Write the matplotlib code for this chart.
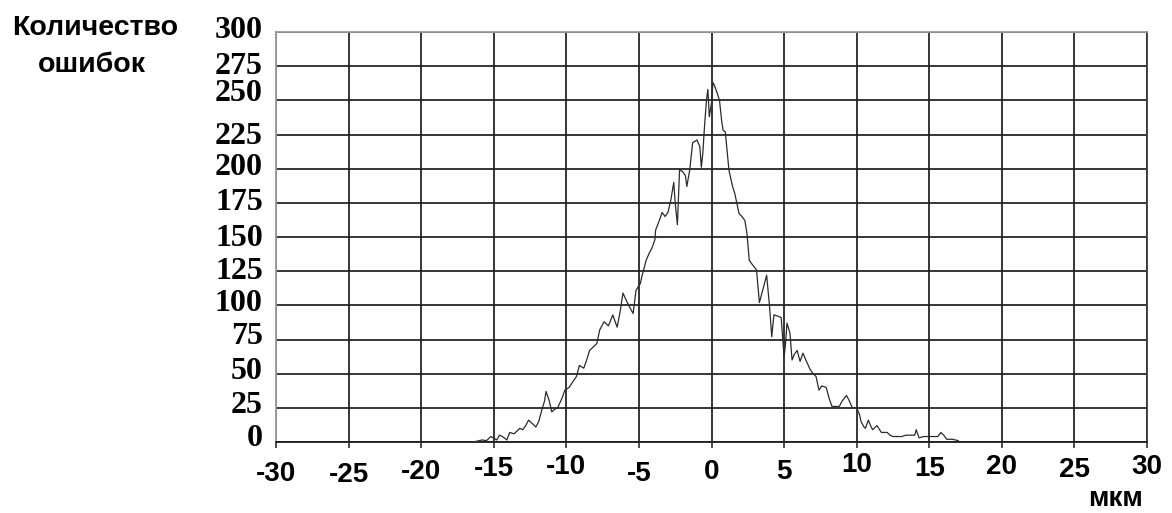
import matplotlib
matplotlib.use("Agg")
import matplotlib.pyplot as plt
import matplotlib.transforms as mtransforms

# Error distribution: deviation (мкм) vs number of errors
deviation = [
    -16.5, -16.2, -15.8, -15.5, -15.2, -14.8, -14.6, -14.4, -14.1, -13.9,
    -13.6, -13.2, -13.0, -12.8, -12.6, -12.3, -12.1, -11.9, -11.7, -11.5,
    -11.4, -11.2, -11.0, -10.8, -10.6, -10.3, -10.1, -9.8, -9.5, -9.3,
    -9.1, -8.8, -8.6, -8.4, -8.2, -7.9, -7.7, -7.4, -7.1, -6.8,
    -6.5, -6.3, -6.1, -5.8, -5.6, -5.4, -5.2, -4.9, -4.8, -4.5,
    -4.3, -4.1, -3.9, -3.85, -3.6, -3.4, -3.2, -3.0, -2.8, -2.6,
    -2.5, -2.35, -2.2, -2.0, -1.8, -1.7, -1.5, -1.3, -1.0, -0.8,
    -0.7, -0.6, -0.5, -0.35, -0.25, -0.15, 0.0, 0.1, 0.2, 0.4,
    0.55, 0.7, 0.8, 0.95, 1.1, 1.2, 1.45, 1.6, 1.9, 2.1,
    2.3, 2.45, 2.6, 2.8, 3.1, 3.3, 3.5, 3.8, 4.0, 4.15,
    4.3, 4.6, 4.8, 5.0, 5.1, 5.2, 5.4, 5.55, 5.7, 5.9,
    6.1, 6.3, 6.5, 6.8, 7.0, 7.2, 7.4, 7.6, 7.9, 8.1,
    8.3, 8.6, 8.8, 9.0, 9.3, 9.5, 9.7, 10.0, 10.2, 10.3,
    10.5, 10.6, 10.8, 11.0, 11.1, 11.4, 11.7, 11.9, 12.1, 12.3,
    12.5, 12.8, 13.1, 13.4, 13.7, 14.0, 14.1, 14.3, 14.6, 15.0,
    15.3, 15.6, 15.8, 16.0, 16.2, 16.6, 17.0,
]
error_count = [
    0, 0.5, 1.5, 1, 4, 1.5, 5, 4, 1.5, 7,
    6, 10, 9, 12, 16, 13, 11, 15, 23, 30,
    37, 31, 22, 24, 25, 32, 38, 40, 45, 48,
    56, 54, 60, 67, 69, 72, 82, 88, 85, 93,
    84, 95, 109, 102, 98, 94, 111, 116, 121, 133,
    138, 142, 148, 155, 162, 168, 165, 168, 177, 190,
    175, 159, 199, 198, 195, 187, 199, 219, 221, 216,
    201, 211, 228, 250, 258, 238, 248, 263, 261, 255,
    250, 235, 228, 227, 210, 199, 187, 182, 167, 165,
    162, 152, 133, 130, 126, 102, 110, 122, 99, 77,
    93, 92, 91, 62, 72, 87, 80, 60, 64, 67,
    59, 65, 60, 53, 50, 48, 38, 41, 40, 32,
    26, 26, 26, 30, 34, 30, 25, 25, 20, 15,
    11, 10, 16, 11, 9, 12, 7, 7, 7, 5,
    4, 4, 4, 5, 5, 5, 9, 3, 4, 4,
    4, 4, 7, 5, 2, 2, 1,
]

x_ticks = [-30, -25, -20, -15, -10, -5, 0, 5, 10, 15, 20, 25, 30]
y_ticks = [0, 25, 50, 75, 100, 125, 150, 175, 200, 225, 250, 275, 300]
y_title = "Количество\nошибок"
x_unit = "мкм"

# Small vertical shifts (pixels, up = positive) of individual tick labels
x_label_shift = [-2, -3, 0, 3, 5, -2, 0, 0, 7, 3, 5, 2, 5]
y_label_shift = [7, 6, 6, 6, 5, 3, 2, 4, 5, 2, 10, 3, 5]

SANS = "Liberation Sans"
SERIF = "Liberation Serif"

W, H, DPI = 1172, 513, 100
fig = plt.figure(figsize=(W / DPI, H / DPI), dpi=DPI)
fig.patch.set_facecolor("white")

left, right, bottom, top = 276, 1147, 442, 32
ax = fig.add_axes([left / W, 1 - bottom / H, (right - left) / W, (bottom - top) / H])

ax.plot(deviation, error_count, color="#2b2b2b", linewidth=0.9, zorder=3)

ax.set_xlim(x_ticks[0], x_ticks[-1])
ax.set_ylim(y_ticks[0], y_ticks[-1])

ax.set_xticks(x_ticks)
ax.set_xticklabels([str(v) for v in x_ticks])
ax.set_yticks(y_ticks)
ax.set_yticklabels([str(v) for v in y_ticks])

ax.grid(True, color="#1e1e1e", linewidth=1.25)
ax.set_axisbelow(True)

for side in ("left", "top", "right"):
    ax.spines[side].set_color("#9a9a9a")
    ax.spines[side].set_linewidth(1.3)
ax.spines["right"].set_color("#3a3a3a")
ax.spines["bottom"].set_color("#1e1e1e")
ax.spines["bottom"].set_linewidth(1.3)

ax.tick_params(axis="x", direction="out", length=4.3, width=1.1, color="#1e1e1e", pad=8.0)
ax.tick_params(axis="y", length=0, pad=9.5)

for lab in ax.get_xticklabels():
    lab.set_fontfamily(SANS)
    lab.set_fontweight("bold")
    lab.set_fontsize(20)
for lab in ax.get_yticklabels():
    lab.set_fontfamily(SERIF)
    lab.set_fontweight("bold")
    lab.set_fontsize(23)

for lab, dy in zip(ax.get_xticklabels(), x_label_shift):
    lab.set_transform(lab.get_transform() + mtransforms.ScaledTranslation(0, dy / DPI, fig.dpi_scale_trans))
for lab, dy in zip(ax.get_yticklabels(), y_label_shift):
    lab.set_transform(lab.get_transform() + mtransforms.ScaledTranslation(0, dy / DPI, fig.dpi_scale_trans))

title_lines = y_title.split("\n")
fig.text(95 / W, 1 - 35 / H, title_lines[0], ha="center", va="baseline",
         fontsize=20.5, fontweight="bold", family=SANS)
fig.text(92 / W, 1 - 72 / H, title_lines[1], ha="center", va="baseline",
         fontsize=20.5, fontweight="bold", family=SANS)
fig.text(1116 / W, 1 - 506 / H, x_unit, ha="center", va="baseline",
         fontsize=20, fontweight="bold", family=SANS)

fig.savefig("out.png", dpi=DPI, facecolor="white")
